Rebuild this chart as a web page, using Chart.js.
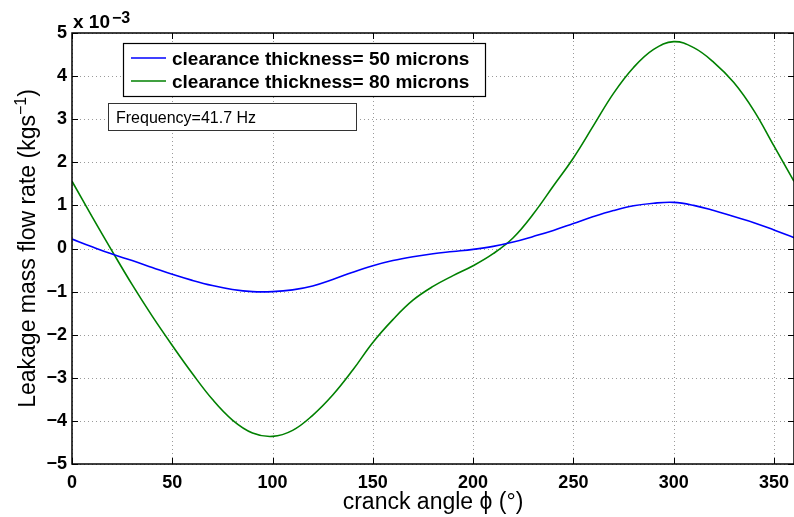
<!DOCTYPE html>
<html>
<head>
<meta charset="utf-8">
<script src="https://cdn.jsdelivr.net/npm/chart.js@4.4.1/dist/chart.umd.min.js"></script>
<style>
  html, body { margin: 0; padding: 0; background: #fff; }
</style>
</head>
<body>
<canvas id="chart" width="794" height="517"></canvas>
<script>
// crank angle in degrees
const angles = [0, 10, 20, 30, 40, 50, 60, 70, 80, 90, 100, 110, 120, 130, 140, 150, 160, 170, 180,
  190, 200, 210, 220, 230, 240, 250, 260, 270, 280, 290, 300, 310, 320, 330, 340, 350, 360];

// leakage mass flow rate, in units of 1e-3 kg/s
const flow50 = [0.22, 0.04, -0.13, -0.28, -0.44, -0.60, -0.74, -0.86, -0.95, -1.00, -1.00, -0.96, -0.87,
  -0.72, -0.55, -0.40, -0.28, -0.19, -0.12, -0.07, -0.02, 0.05, 0.15, 0.28, 0.42, 0.58, 0.74, 0.88,
  0.99, 1.05, 1.07, 1.00, 0.88, 0.74, 0.60, 0.43, 0.25];
const flow80 = [1.56, 0.74, -0.06, -0.84, -1.57, -2.25, -2.90, -3.50, -3.98, -4.28, -4.36, -4.22, -3.87,
  -3.40, -2.82, -2.18, -1.65, -1.20, -0.88, -0.63, -0.40, -0.12, 0.25, 0.80, 1.45, 2.10, 2.85, 3.60,
  4.20, 4.62, 4.80, 4.66, 4.32, 3.85, 3.20, 2.38, 1.56];

const seriesLabels = ['clearance thickness= 50 microns', 'clearance thickness= 80 microns'];
const seriesColors = ['#0000ff', '#008000'];
const xTicks = [0, 50, 100, 150, 200, 250, 300, 350];
const yTicks = [-5, -4, -3, -2, -1, 0, 1, 2, 3, 4, 5];
const noteText = 'Frequency=41.7 Hz';

const FONT = '"Liberation Sans", Arial, Helvetica, sans-serif';
const minus = v => String(v).replace('-', '\u2212');

// grid, box, inward ticks, labels and legend drawn the MATLAB way
const matlabLook = {
  id: 'matlabLook',
  beforeDatasetsDraw(chart) {
    const { ctx, chartArea: a, scales: { x, y } } = chart;
    ctx.save();
    ctx.strokeStyle = '#9a9a9a';
    ctx.lineWidth = 1;
    ctx.setLineDash([1, 3]);
    x.ticks.forEach(t => {
      const px = Math.round(x.getPixelForValue(t.value)) + 0.5;
      ctx.beginPath(); ctx.moveTo(px, a.top); ctx.lineTo(px, a.bottom); ctx.stroke();
    });
    y.ticks.forEach(t => {
      const py = Math.round(y.getPixelForValue(t.value)) + 0.5;
      ctx.beginPath(); ctx.moveTo(a.left, py); ctx.lineTo(a.right, py); ctx.stroke();
    });
    ctx.restore();
  },
  afterDraw(chart) {
    const { ctx, chartArea: a, scales: { x, y } } = chart;
    ctx.save();
    ctx.strokeStyle = '#000';
    ctx.lineWidth = 1.5;
    ctx.strokeRect(a.left, a.top, a.right - a.left, a.bottom - a.top);

    // inward ticks
    const tl = 6;
    ctx.lineWidth = 1;
    ctx.beginPath();
    x.ticks.forEach(t => {
      const px = Math.round(x.getPixelForValue(t.value)) + 0.5;
      ctx.moveTo(px, a.bottom); ctx.lineTo(px, a.bottom - tl);
      ctx.moveTo(px, a.top); ctx.lineTo(px, a.top + tl);
    });
    y.ticks.forEach(t => {
      const py = Math.round(y.getPixelForValue(t.value)) + 0.5;
      ctx.moveTo(a.left, py); ctx.lineTo(a.left + tl, py);
      ctx.moveTo(a.right, py); ctx.lineTo(a.right - tl, py);
    });
    ctx.stroke();

    ctx.fillStyle = '#000';
    ctx.textBaseline = 'alphabetic';

    // exponent above the y axis
    ctx.font = 'bold 19px ' + FONT;
    ctx.textAlign = 'left';
    ctx.fillText('x 10', a.left + 1, 28);
    const w10 = ctx.measureText('x 10').width;
    ctx.font = 'bold 16px ' + FONT;
    ctx.fillText('\u22123', a.left + 3 + w10, 23);

    // x title
    ctx.font = '23px ' + FONT;
    ctx.textAlign = 'center';
    ctx.fillText('cranck angle \u03D5 (\u00B0)', (a.left + a.right) / 2, 509);

    // y title with superscript
    const main = 'Leakage mass flow rate (kgs';
    const sup = '\u22121';
    ctx.font = '23px ' + FONT;
    const wMain = ctx.measureText(main).width;
    const wClose = ctx.measureText(')').width;
    ctx.font = '16px ' + FONT;
    const wSup = ctx.measureText(sup).width;
    const total = wMain + wSup + wClose;
    ctx.translate(35, (a.top + a.bottom) / 2 + total / 2);
    ctx.rotate(-Math.PI / 2);
    ctx.textAlign = 'left';
    ctx.font = '23px ' + FONT;
    ctx.fillText(main, 0, 0);
    ctx.font = '16px ' + FONT;
    ctx.fillText(sup, wMain, -9);
    ctx.font = '23px ' + FONT;
    ctx.fillText(')', wMain + wSup, 0);
    ctx.setTransform(1, 0, 0, 1, 0, 0);

    // legend box
    ctx.fillStyle = '#fff';
    ctx.fillRect(123, 43, 362, 53);
    ctx.strokeStyle = '#000';
    ctx.lineWidth = 1.2;
    ctx.strokeRect(123.5, 43.5, 362, 53);
    ctx.font = 'bold 19px ' + FONT;
    ctx.textAlign = 'left';
    chart.data.datasets.forEach((ds, i) => {
      const ly = 58 + i * 23;
      ctx.strokeStyle = ds.borderColor;
      ctx.lineWidth = 1.5;
      ctx.beginPath(); ctx.moveTo(131, ly); ctx.lineTo(166, ly); ctx.stroke();
      ctx.fillStyle = '#000';
      ctx.fillText(ds.label, 172, ly + 7);
    });

    // annotation box
    ctx.fillStyle = '#fff';
    ctx.fillRect(108, 103, 248, 27);
    ctx.strokeStyle = '#333';
    ctx.lineWidth = 1;
    ctx.strokeRect(108.5, 103.5, 248, 27);
    ctx.fillStyle = '#000';
    ctx.font = '16px ' + FONT;
    ctx.fillText(noteText, 116, 123);
    ctx.restore();
  }
};

new Chart(document.getElementById('chart'), {
  type: 'line',
  data: {
    datasets: [
      { label: seriesLabels[0], data: angles.map((a, i) => ({ x: a, y: flow50[i] })),
        borderColor: seriesColors[0], borderWidth: 1.6 },
      { label: seriesLabels[1], data: angles.map((a, i) => ({ x: a, y: flow80[i] })),
        borderColor: seriesColors[1], borderWidth: 1.6 }
    ]
  },
  options: {
    responsive: false,
    animation: false,
    devicePixelRatio: 1,
    layout: { padding: { top: 33, right: -2, left: 0, bottom: 0 } },
    elements: { point: { radius: 0 }, line: { tension: 0.4 } },
    plugins: { legend: { display: false }, tooltip: { enabled: false } },
    scales: {
      x: {
        type: 'linear', min: 0, max: 360,
        afterBuildTicks: s => { s.ticks = xTicks.map(v => ({ value: v })); },
        afterFit: s => { s.height = 53; s.paddingLeft = 0; s.paddingRight = 0; },
        grid: { display: false, drawTicks: false },
        border: { display: false },
        ticks: { color: '#000', padding: 8, font: { family: FONT, size: 18, weight: 'bold' },
          callback: v => minus(v) }
      },
      y: {
        type: 'linear', min: -5, max: 5,
        afterBuildTicks: s => { s.ticks = yTicks.map(v => ({ value: v })); },
        afterFit: s => { s.width = 72; s.paddingTop = 0; s.paddingBottom = 0; },
        grid: { display: false, drawTicks: false },
        border: { display: false },
        ticks: { color: '#000', padding: 5, font: { family: FONT, size: 18, weight: 'bold' },
          callback: v => minus(v) }
      }
    }
  },
  plugins: [matlabLook]
});
</script>
</body>
</html>
